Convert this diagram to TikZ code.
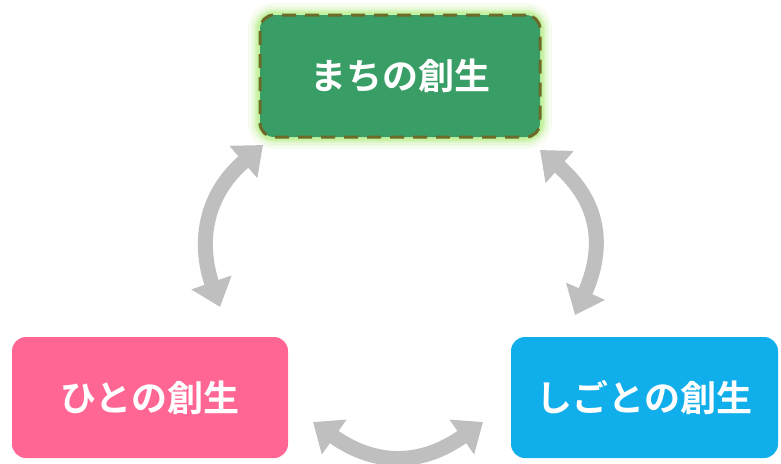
\documentclass[tikz,border=0pt]{standalone}
\usepackage{fontspec}
\newfontfamily\cjk{Noto Sans CJK JP}[BoldFont={Noto Sans CJK JP Bold}]
\usetikzlibrary{arrows.meta}
\definecolor{greenc}{HTML}{389E66}
\definecolor{pinkc}{HTML}{FF6694}
\definecolor{bluec}{HTML}{10AEEA}
\definecolor{dashc}{HTML}{6B6A28}
\definecolor{glowc}{HTML}{B8EE8A}
\definecolor{arrowc}{HTML}{BFBFBF}
\tikzset{
  box/.style={rounded corners=14pt, inner sep=0pt, outer sep=0pt, text=white,
    font=\cjk\bfseries\fontsize{36}{40}\selectfont},
  bigarrow/.style={draw=arrowc, line width=15pt,
    {Triangle[length=26pt,width=41pt,fill=arrowc]}-{Triangle[length=26pt,width=41pt,fill=arrowc]}},
  glow/.style={draw=glowc, rounded corners=14pt}
}
\begin{document}
\begin{tikzpicture}[x=1pt,y=-1pt]
\useasboundingbox (0,0) rectangle (781,463);
\fill[white] (0,0) rectangle (781,463);
% glow around the top box
\coordinate (gNW) at (260,15);
\coordinate (gSE) at (540,137);
\draw[glow, line width=24pt, opacity=0.12] (gNW) rectangle (gSE);
\draw[glow, line width=17pt, opacity=0.2] (gNW) rectangle (gSE);
\draw[glow, line width=11pt, opacity=0.35] (gNW) rectangle (gSE);
\draw[glow, line width=7pt, opacity=0.55] (gNW) rectangle (gSE);
% boxes
\node[box, fill=greenc, draw=dashc, line width=3pt, dash pattern=on 14pt off 9pt,
  minimum width=280pt, minimum height=122pt] (machi) at (400,76) {まちの創生};
\node[box, fill=pinkc, minimum width=276pt, minimum height=121pt] (hito) at (150,397.5) {ひとの創生};
\node[box, fill=bluec, minimum width=267pt, minimum height=121pt] (shigoto) at (644.5,397.5) {しごとの創生};
% arrow end points
\coordinate (lA) at (263,145);
\coordinate (lB) at (220,307);
\coordinate (rA) at (540,150);
\coordinate (rB) at (575,315);
\coordinate (bA) at (313,422);
\coordinate (bB) at (483,422);
\draw[bigarrow] (lA) .. controls (197,202) and (202,255) .. (lB);
\draw[bigarrow] (rA) .. controls (609,210) and (599,261) .. (rB);
\draw[bigarrow] (bA) .. controls (375,466) and (421,466) .. (bB);
\end{tikzpicture}
\end{document}
